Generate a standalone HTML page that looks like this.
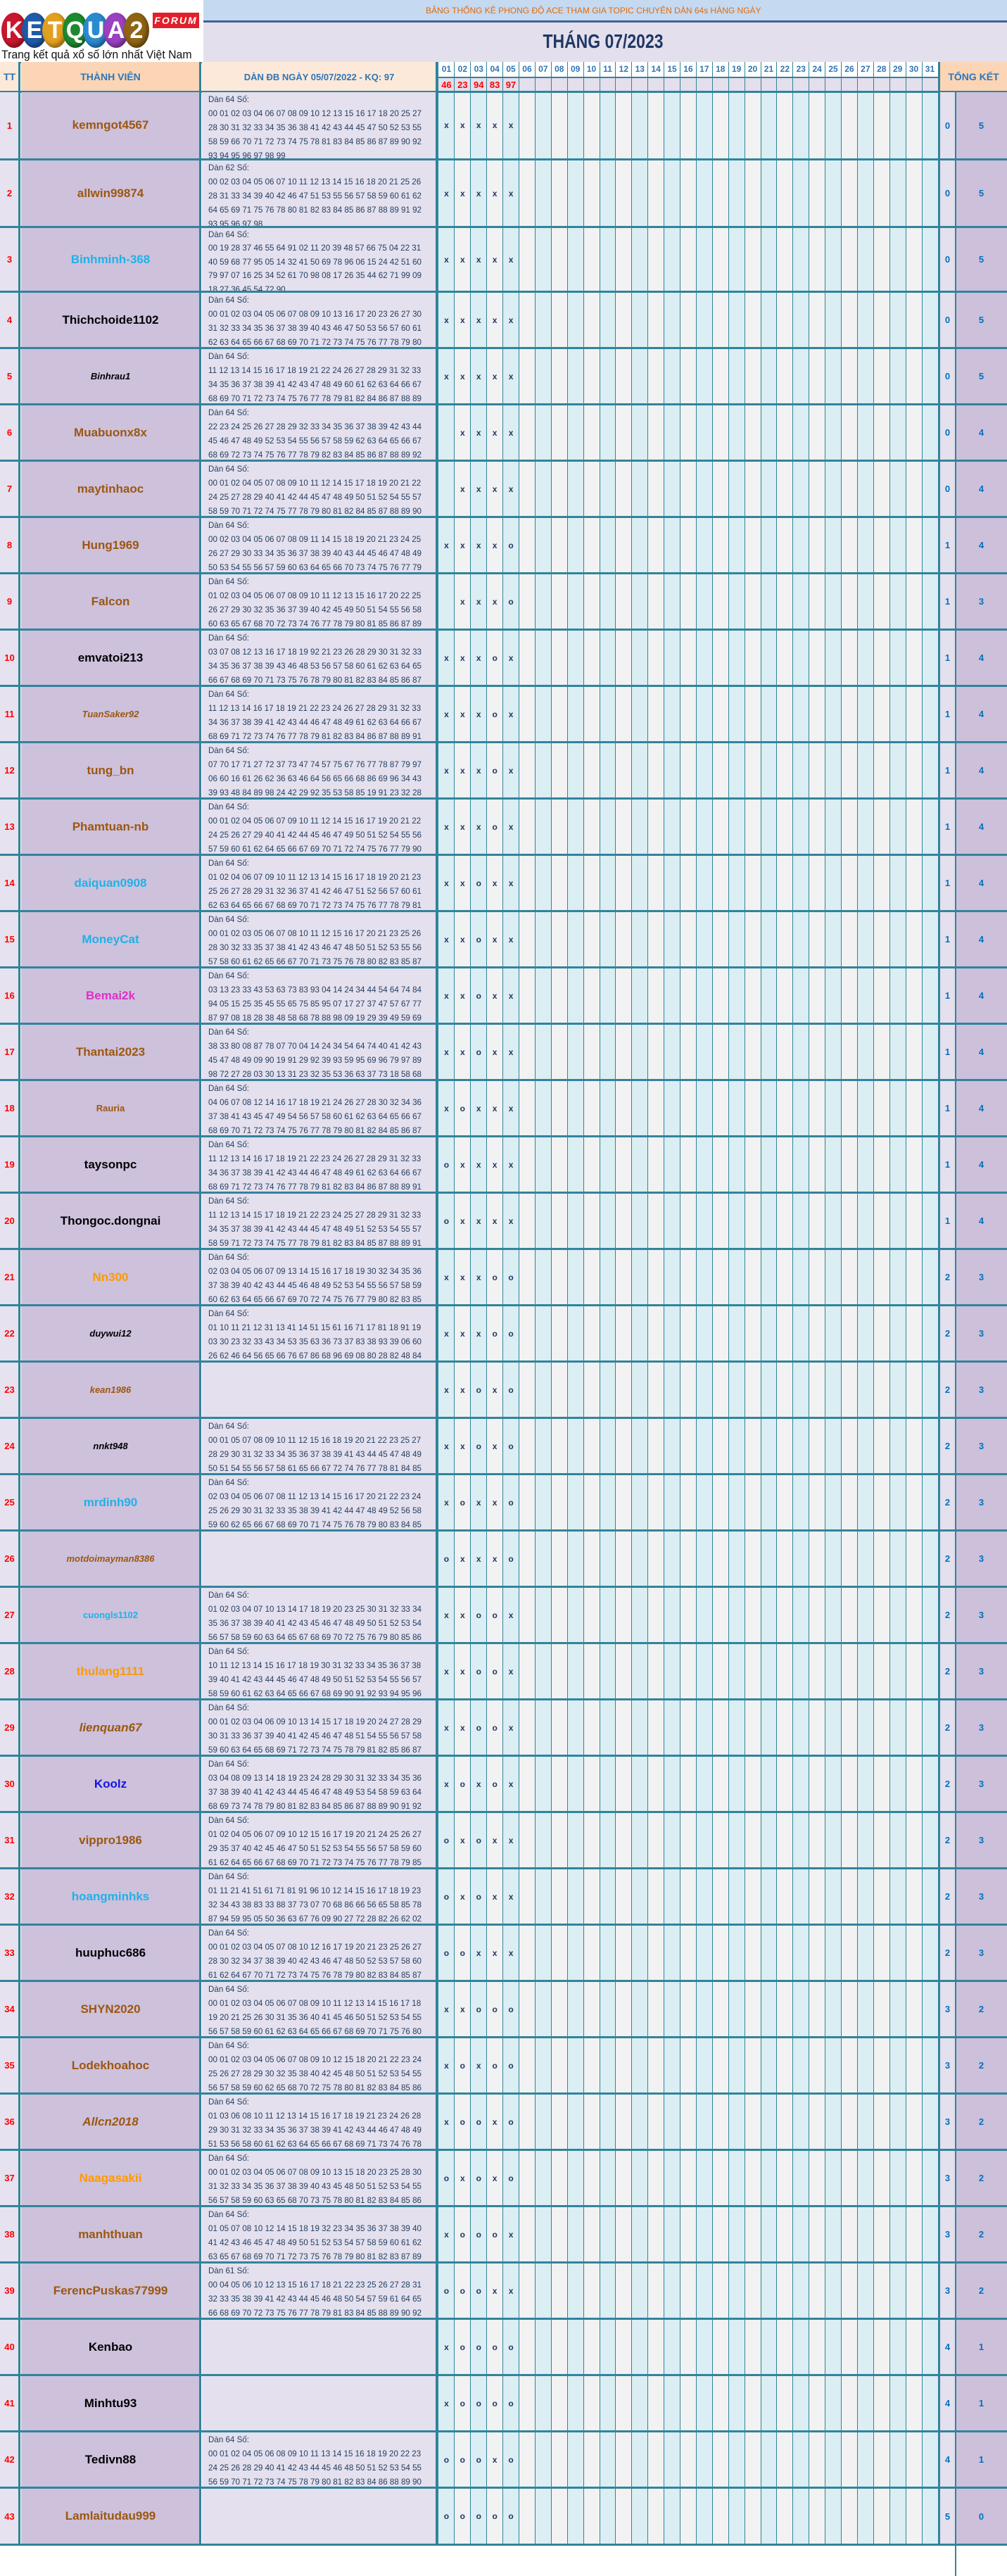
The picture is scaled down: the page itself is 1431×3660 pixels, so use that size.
<!DOCTYPE html>
<html><head><meta charset="utf-8">
<style>
*{margin:0;padding:0;box-sizing:border-box}
body{width:1431px;height:3617px;position:relative;background:#fff;font-family:"Liberation Sans",sans-serif;overflow:hidden}
.a{position:absolute}
.daybg{position:absolute;left:623px;top:131px;width:710px;height:3486px;background:repeating-linear-gradient(90deg,#daeef3 0,#daeef3 22.9px,#f2f2f2 22.9px,#f2f2f2 45.8px)}
.vl{position:absolute;top:88px;height:3529px;background:#31849b}
.r{position:absolute;left:0;width:1431px;border-bottom:3px solid #31849b}
.tt{position:absolute;left:0;top:0;bottom:0;width:27px;background:#e6e2ef;color:#f00;font-size:13px;font-weight:bold;display:flex;align-items:center;justify-content:center}
.nm{position:absolute;left:30px;top:0;bottom:0;width:254px;background:#cdc1dc;font-size:17px;font-weight:bold;display:flex;align-items:center;justify-content:center;white-space:nowrap}
.nm.s{font-size:13px}
.nm.i{font-style:italic}
.dn{position:absolute;left:287px;top:0;bottom:0;width:333px;background:#e4e0ee;color:#243f60;font-size:11.6px;line-height:20px;padding:1px 0 0 9px;white-space:nowrap;overflow:hidden}
.m{position:absolute;top:0;bottom:0;width:22.9px;display:flex;align-items:center;justify-content:center;font-size:12px;font-weight:bold;color:#1f3864}
.w{position:absolute;left:1336px;top:0;bottom:0;width:21px;background:#e4e0ee;color:#0070c0;font-weight:bold;font-size:13px;display:flex;align-items:center;justify-content:center}
.t{position:absolute;left:1358px;top:0;bottom:0;width:73px;background:#ccc0da;color:#0070c0;font-weight:bold;font-size:13px;display:flex;align-items:center;justify-content:center}
.br{color:#9c5710}.cy{color:#1fb2e8}.bk{color:#000}.mg{color:#e02ec8}.or{color:#ff9a00}.bl{color:#1414e6}
.hd{position:absolute;top:111px;height:20px;width:22.9px;color:#f00;font-weight:bold;font-size:13px;text-align:center;line-height:20px}
.dh{position:absolute;top:88px;height:21px;width:22.9px;color:#2e75b6;font-weight:bold;font-size:12px;text-align:center;line-height:21px;background:#fff}
.c{position:absolute;width:26px;height:50px;border-radius:50%;top:18px;color:#fff;font-weight:bold;font-size:34px;text-align:center;line-height:50px;box-shadow:inset -3px -4px 6px rgba(0,0,0,.35)}
</style></head><body>
<!-- logo -->
<div class="a" style="left:0;top:0;width:289px;height:88px;background:#fff"></div>
<div class="c" style="left:2px;width:36px;background:#c8172e">K</div>
<div class="c" style="left:31px;width:36px;background:#1f5aa8">E</div>
<div class="c" style="left:60px;width:36px;background:#e2a020">T</div>
<div class="c" style="left:89px;width:36px;background:#1e8a30">Q</div>
<div class="c" style="left:118px;width:36px;background:#2a8ad0">U</div>
<div class="c" style="left:147px;width:36px;background:#9a40c0">A</div>
<div class="c" style="left:176px;width:36px;background:#8f6414">2</div>
<div class="a" style="left:217px;top:18px;width:66px;height:22px;background:#e0202a;color:#fff;font-style:italic;font-weight:bold;font-size:14px;text-align:center;line-height:22px;letter-spacing:2px">FORUM</div>
<div class="a" style="left:2px;top:68px;font-size:17px;color:#111;white-space:nowrap;transform:scaleX(0.93);transform-origin:left">Trang kết quả xổ số lớn nhất Việt Nam</div>
<!-- top bands -->
<div class="a" style="left:289px;top:0;width:1142px;height:30px;background:#c5d9f1"></div>
<div class="a" style="left:289px;top:29px;width:1142px;height:3px;background:#3d6398"></div>
<div class="a" style="left:289px;top:32px;width:1142px;height:56px;background:#e4dfec"></div>
<div class="a" style="left:605px;top:8px;font-size:12px;color:#e36c09;white-space:nowrap">BẢNG THỐNG KÊ PHONG ĐỘ ACE THAM GIA TOPIC CHUYÊN DÀN 64s HÀNG NGÀY</div>
<div class="a" style="left:700px;top:43px;width:314px;text-align:center;font-size:28px;font-weight:bold;color:#1f3864;transform:scaleX(0.82)">THÁNG 07/2023</div>
<!-- header row -->
<div class="a" style="left:0;top:88px;width:1431px;height:2px;background:#31849b"></div>
<div class="a" style="left:0;top:88px;width:27px;height:43px;background:#fde9d9;color:#2e75b6;font-weight:bold;font-size:14px;text-align:center;line-height:43px">TT</div>
<div class="a" style="left:30px;top:88px;width:254px;height:43px;background:#fbd5b5;color:#2e75b6;font-weight:bold;font-size:14px;text-align:center;line-height:43px">THÀNH VIÊN</div>
<div class="a" style="left:287px;top:88px;width:333px;height:43px;background:#fde9d9;color:#2e75b6;font-weight:bold;font-size:13px;text-align:center;line-height:43px">DÀN ĐB NGÀY 05/07/2022 - KQ: 97</div>
<div class="a" style="left:623px;top:109px;width:710px;height:22px;background:#e4dfec"></div>
<div class="a" style="left:623px;top:108px;width:710px;height:3px;background:#31849b"></div>
<div class="a" style="left:1336px;top:88px;width:95px;height:43px;background:#fbd5b5;color:#2e75b6;font-weight:bold;font-size:14px;text-align:center;line-height:43px">TỔNG KẾT</div>
<div class="a" style="left:1336px;top:129px;width:95px;height:3px;background:#3d5f8f"></div>
<div class="daybg"></div>
<div id="days"></div>
<div class="dh" style="left:623.0px">01</div><div class="dh" style="left:645.9px">02</div><div class="dh" style="left:668.8px">03</div><div class="dh" style="left:691.7px">04</div><div class="dh" style="left:714.6px">05</div><div class="dh" style="left:737.5px">06</div><div class="dh" style="left:760.4px">07</div><div class="dh" style="left:783.3px">08</div><div class="dh" style="left:806.2px">09</div><div class="dh" style="left:829.1px">10</div><div class="dh" style="left:852.0px">11</div><div class="dh" style="left:874.9px">12</div><div class="dh" style="left:897.8px">13</div><div class="dh" style="left:920.7px">14</div><div class="dh" style="left:943.6px">15</div><div class="dh" style="left:966.5px">16</div><div class="dh" style="left:989.4px">17</div><div class="dh" style="left:1012.3px">18</div><div class="dh" style="left:1035.2px">19</div><div class="dh" style="left:1058.1px">20</div><div class="dh" style="left:1081.0px">21</div><div class="dh" style="left:1103.9px">22</div><div class="dh" style="left:1126.8px">23</div><div class="dh" style="left:1149.7px">24</div><div class="dh" style="left:1172.6px">25</div><div class="dh" style="left:1195.5px">26</div><div class="dh" style="left:1218.4px">27</div><div class="dh" style="left:1241.3px">28</div><div class="dh" style="left:1264.2px">29</div><div class="dh" style="left:1287.1px">30</div><div class="dh" style="left:1310.0px">31</div>
<div class="hd" style="left:623.0px">46</div><div class="hd" style="left:645.9px">23</div><div class="hd" style="left:668.8px">94</div><div class="hd" style="left:691.7px">83</div><div class="hd" style="left:714.6px">97</div>
<div class="a" style="left:0;top:129px;width:1431px;height:3px;background:#31849b"></div>

<!-- rows -->
<div class="r" style="top:131px;height:97px"><div class="tt">1</div><div class="nm br">kemngot4567</div><div class="dn">Dàn 64 Số:<br>00 01 02 03 04 06 07 08 09 10 12 13 15 16 17 18 20 25 27<br>28 30 31 32 33 34 35 36 38 41 42 43 44 45 47 50 52 53 55<br>58 59 66 70 71 72 73 74 75 78 81 83 84 85 86 87 89 90 92<br>93 94 95 96 97 98 99</div><div class="m" style="left:623px">x</div><div class="m" style="left:645.9px">x</div><div class="m" style="left:668.8px">x</div><div class="m" style="left:691.7px">x</div><div class="m" style="left:714.6px">x</div><div class="w">0</div><div class="t">5</div></div>
<div class="r" style="top:228px;height:96px"><div class="tt">2</div><div class="nm br">allwin99874</div><div class="dn">Dàn 62 Số:<br>00 02 03 04 05 06 07 10 11 12 13 14 15 16 18 20 21 25 26<br>28 31 33 34 39 40 42 46 47 51 53 55 56 57 58 59 60 61 62<br>64 65 69 71 75 76 78 80 81 82 83 84 85 86 87 88 89 91 92<br>93 95 96 97 98</div><div class="m" style="left:623px">x</div><div class="m" style="left:645.9px">x</div><div class="m" style="left:668.8px">x</div><div class="m" style="left:691.7px">x</div><div class="m" style="left:714.6px">x</div><div class="w">0</div><div class="t">5</div></div>
<div class="r" style="top:324px;height:92px"><div class="tt">3</div><div class="nm cy">Binhminh-368</div><div class="dn" style="line-height:19.4px;padding-top:0">Dàn 64 Số:<br>00 19 28 37 46 55 64 91 02 11 20 39 48 57 66 75 04 22 31<br>40 59 68 77 95 05 14 32 41 50 69 78 96 06 15 24 42 51 60<br>79 97 07 16 25 34 52 61 70 98 08 17 26 35 44 62 71 99 09<br>18 27 36 45 54 72 90</div><div class="m" style="left:623px">x</div><div class="m" style="left:645.9px">x</div><div class="m" style="left:668.8px">x</div><div class="m" style="left:691.7px">x</div><div class="m" style="left:714.6px">x</div><div class="w">0</div><div class="t">5</div></div>
<div class="r" style="top:416px;height:80px"><div class="tt">4</div><div class="nm bk">Thichchoide1102</div><div class="dn">Dàn 64 Số:<br>00 01 02 03 04 05 06 07 08 09 10 13 16 17 20 23 26 27 30<br>31 32 33 34 35 36 37 38 39 40 43 46 47 50 53 56 57 60 61<br>62 63 64 65 66 67 68 69 70 71 72 73 74 75 76 77 78 79 80</div><div class="m" style="left:623px">x</div><div class="m" style="left:645.9px">x</div><div class="m" style="left:668.8px">x</div><div class="m" style="left:691.7px">x</div><div class="m" style="left:714.6px">x</div><div class="w">0</div><div class="t">5</div></div>
<div class="r" style="top:496px;height:80px"><div class="tt">5</div><div class="nm bk s i">Binhrau1</div><div class="dn">Dàn 64 Số:<br>11 12 13 14 15 16 17 18 19 21 22 24 26 27 28 29 31 32 33<br>34 35 36 37 38 39 41 42 43 47 48 49 60 61 62 63 64 66 67<br>68 69 70 71 72 73 74 75 76 77 78 79 81 82 84 86 87 88 89</div><div class="m" style="left:623px">x</div><div class="m" style="left:645.9px">x</div><div class="m" style="left:668.8px">x</div><div class="m" style="left:691.7px">x</div><div class="m" style="left:714.6px">x</div><div class="w">0</div><div class="t">5</div></div>
<div class="r" style="top:576px;height:80px"><div class="tt">6</div><div class="nm br">Muabuonx8x</div><div class="dn">Dàn 64 Số:<br>22 23 24 25 26 27 28 29 32 33 34 35 36 37 38 39 42 43 44<br>45 46 47 48 49 52 53 54 55 56 57 58 59 62 63 64 65 66 67<br>68 69 72 73 74 75 76 77 78 79 82 83 84 85 86 87 88 89 92</div><div class="m" style="left:645.9px">x</div><div class="m" style="left:668.8px">x</div><div class="m" style="left:691.7px">x</div><div class="m" style="left:714.6px">x</div><div class="w">0</div><div class="t">4</div></div>
<div class="r" style="top:656px;height:80px"><div class="tt">7</div><div class="nm br">maytinhaoc</div><div class="dn">Dàn 64 Số:<br>00 01 02 04 05 07 08 09 10 11 12 14 15 17 18 19 20 21 22<br>24 25 27 28 29 40 41 42 44 45 47 48 49 50 51 52 54 55 57<br>58 59 70 71 72 74 75 77 78 79 80 81 82 84 85 87 88 89 90</div><div class="m" style="left:645.9px">x</div><div class="m" style="left:668.8px">x</div><div class="m" style="left:691.7px">x</div><div class="m" style="left:714.6px">x</div><div class="w">0</div><div class="t">4</div></div>
<div class="r" style="top:736px;height:80px"><div class="tt">8</div><div class="nm br">Hung1969</div><div class="dn">Dàn 64 Số:<br>00 02 03 04 05 06 07 08 09 11 14 15 18 19 20 21 23 24 25<br>26 27 29 30 33 34 35 36 37 38 39 40 43 44 45 46 47 48 49<br>50 53 54 55 56 57 59 60 63 64 65 66 70 73 74 75 76 77 79</div><div class="m" style="left:623px">x</div><div class="m" style="left:645.9px">x</div><div class="m" style="left:668.8px">x</div><div class="m" style="left:691.7px">x</div><div class="m" style="left:714.6px">o</div><div class="w">1</div><div class="t">4</div></div>
<div class="r" style="top:816px;height:80px"><div class="tt">9</div><div class="nm br">Falcon</div><div class="dn">Dàn 64 Số:<br>01 02 03 04 05 06 07 08 09 10 11 12 13 15 16 17 20 22 25<br>26 27 29 30 32 35 36 37 39 40 42 45 49 50 51 54 55 56 58<br>60 63 65 67 68 70 72 73 74 76 77 78 79 80 81 85 86 87 89</div><div class="m" style="left:645.9px">x</div><div class="m" style="left:668.8px">x</div><div class="m" style="left:691.7px">x</div><div class="m" style="left:714.6px">o</div><div class="w">1</div><div class="t">3</div></div>
<div class="r" style="top:896px;height:80px"><div class="tt">10</div><div class="nm bk">emvatoi213</div><div class="dn">Dàn 64 Số:<br>03 07 08 12 13 16 17 18 19 92 21 23 26 28 29 30 31 32 33<br>34 35 36 37 38 39 43 46 48 53 56 57 58 60 61 62 63 64 65<br>66 67 68 69 70 71 73 75 76 78 79 80 81 82 83 84 85 86 87</div><div class="m" style="left:623px">x</div><div class="m" style="left:645.9px">x</div><div class="m" style="left:668.8px">x</div><div class="m" style="left:691.7px">o</div><div class="m" style="left:714.6px">x</div><div class="w">1</div><div class="t">4</div></div>
<div class="r" style="top:976px;height:80px"><div class="tt">11</div><div class="nm br s i">TuanSaker92</div><div class="dn">Dàn 64 Số:<br>11 12 13 14 16 17 18 19 21 22 23 24 26 27 28 29 31 32 33<br>34 36 37 38 39 41 42 43 44 46 47 48 49 61 62 63 64 66 67<br>68 69 71 72 73 74 76 77 78 79 81 82 83 84 86 87 88 89 91</div><div class="m" style="left:623px">x</div><div class="m" style="left:645.9px">x</div><div class="m" style="left:668.8px">x</div><div class="m" style="left:691.7px">o</div><div class="m" style="left:714.6px">x</div><div class="w">1</div><div class="t">4</div></div>
<div class="r" style="top:1056px;height:80px"><div class="tt">12</div><div class="nm br">tung_bn</div><div class="dn">Dàn 64 Số:<br>07 70 17 71 27 72 37 73 47 74 57 75 67 76 77 78 87 79 97<br>06 60 16 61 26 62 36 63 46 64 56 65 66 68 86 69 96 34 43<br>39 93 48 84 89 98 24 42 29 92 35 53 58 85 19 91 23 32 28</div><div class="m" style="left:623px">x</div><div class="m" style="left:645.9px">x</div><div class="m" style="left:668.8px">x</div><div class="m" style="left:691.7px">o</div><div class="m" style="left:714.6px">x</div><div class="w">1</div><div class="t">4</div></div>
<div class="r" style="top:1136px;height:80px"><div class="tt">13</div><div class="nm br">Phamtuan-nb</div><div class="dn">Dàn 64 Số:<br>00 01 02 04 05 06 07 09 10 11 12 14 15 16 17 19 20 21 22<br>24 25 26 27 29 40 41 42 44 45 46 47 49 50 51 52 54 55 56<br>57 59 60 61 62 64 65 66 67 69 70 71 72 74 75 76 77 79 90</div><div class="m" style="left:623px">x</div><div class="m" style="left:645.9px">x</div><div class="m" style="left:668.8px">x</div><div class="m" style="left:691.7px">o</div><div class="m" style="left:714.6px">x</div><div class="w">1</div><div class="t">4</div></div>
<div class="r" style="top:1216px;height:80px"><div class="tt">14</div><div class="nm cy">daiquan0908</div><div class="dn">Dàn 64 Số:<br>01 02 04 06 07 09 10 11 12 13 14 15 16 17 18 19 20 21 23<br>25 26 27 28 29 31 32 36 37 41 42 46 47 51 52 56 57 60 61<br>62 63 64 65 66 67 68 69 70 71 72 73 74 75 76 77 78 79 81</div><div class="m" style="left:623px">x</div><div class="m" style="left:645.9px">x</div><div class="m" style="left:668.8px">o</div><div class="m" style="left:691.7px">x</div><div class="m" style="left:714.6px">x</div><div class="w">1</div><div class="t">4</div></div>
<div class="r" style="top:1296px;height:80px"><div class="tt">15</div><div class="nm cy">MoneyCat</div><div class="dn">Dàn 64 Số:<br>00 01 02 03 05 06 07 08 10 11 12 15 16 17 20 21 23 25 26<br>28 30 32 33 35 37 38 41 42 43 46 47 48 50 51 52 53 55 56<br>57 58 60 61 62 65 66 67 70 71 73 75 76 78 80 82 83 85 87</div><div class="m" style="left:623px">x</div><div class="m" style="left:645.9px">x</div><div class="m" style="left:668.8px">o</div><div class="m" style="left:691.7px">x</div><div class="m" style="left:714.6px">x</div><div class="w">1</div><div class="t">4</div></div>
<div class="r" style="top:1376px;height:80px"><div class="tt">16</div><div class="nm mg">Bemai2k</div><div class="dn">Dàn 64 Số:<br>03 13 23 33 43 53 63 73 83 93 04 14 24 34 44 54 64 74 84<br>94 05 15 25 35 45 55 65 75 85 95 07 17 27 37 47 57 67 77<br>87 97 08 18 28 38 48 58 68 78 88 98 09 19 29 39 49 59 69</div><div class="m" style="left:623px">x</div><div class="m" style="left:645.9px">x</div><div class="m" style="left:668.8px">o</div><div class="m" style="left:691.7px">x</div><div class="m" style="left:714.6px">x</div><div class="w">1</div><div class="t">4</div></div>
<div class="r" style="top:1456px;height:80px"><div class="tt">17</div><div class="nm br">Thantai2023</div><div class="dn">Dàn 64 Số:<br>38 33 80 08 87 78 07 70 04 14 24 34 54 64 74 40 41 42 43<br>45 47 48 49 09 90 19 91 29 92 39 93 59 95 69 96 79 97 89<br>98 72 27 28 03 30 13 31 23 32 35 53 36 63 37 73 18 58 68</div><div class="m" style="left:623px">x</div><div class="m" style="left:645.9px">x</div><div class="m" style="left:668.8px">o</div><div class="m" style="left:691.7px">x</div><div class="m" style="left:714.6px">x</div><div class="w">1</div><div class="t">4</div></div>
<div class="r" style="top:1536px;height:80px"><div class="tt">18</div><div class="nm br s">Rauria</div><div class="dn">Dàn 64 Số:<br>04 06 07 08 12 14 16 17 18 19 21 24 26 27 28 30 32 34 36<br>37 38 41 43 45 47 49 54 56 57 58 60 61 62 63 64 65 66 67<br>68 69 70 71 72 73 74 75 76 77 78 79 80 81 82 84 85 86 87</div><div class="m" style="left:623px">x</div><div class="m" style="left:645.9px">o</div><div class="m" style="left:668.8px">x</div><div class="m" style="left:691.7px">x</div><div class="m" style="left:714.6px">x</div><div class="w">1</div><div class="t">4</div></div>
<div class="r" style="top:1616px;height:80px"><div class="tt">19</div><div class="nm bk">taysonpc</div><div class="dn">Dàn 64 Số:<br>11 12 13 14 16 17 18 19 21 22 23 24 26 27 28 29 31 32 33<br>34 36 37 38 39 41 42 43 44 46 47 48 49 61 62 63 64 66 67<br>68 69 71 72 73 74 76 77 78 79 81 82 83 84 86 87 88 89 91</div><div class="m" style="left:623px">o</div><div class="m" style="left:645.9px">x</div><div class="m" style="left:668.8px">x</div><div class="m" style="left:691.7px">x</div><div class="m" style="left:714.6px">x</div><div class="w">1</div><div class="t">4</div></div>
<div class="r" style="top:1696px;height:80px"><div class="tt">20</div><div class="nm bk">Thongoc.dongnai</div><div class="dn">Dàn 64 Số:<br>11 12 13 14 15 17 18 19 21 22 23 24 25 27 28 29 31 32 33<br>34 35 37 38 39 41 42 43 44 45 47 48 49 51 52 53 54 55 57<br>58 59 71 72 73 74 75 77 78 79 81 82 83 84 85 87 88 89 91</div><div class="m" style="left:623px">o</div><div class="m" style="left:645.9px">x</div><div class="m" style="left:668.8px">x</div><div class="m" style="left:691.7px">x</div><div class="m" style="left:714.6px">x</div><div class="w">1</div><div class="t">4</div></div>
<div class="r" style="top:1776px;height:80px"><div class="tt">21</div><div class="nm or">Nn300</div><div class="dn">Dàn 64 Số:<br>02 03 04 05 06 07 09 13 14 15 16 17 18 19 30 32 34 35 36<br>37 38 39 40 42 43 44 45 46 48 49 52 53 54 55 56 57 58 59<br>60 62 63 64 65 66 67 69 70 72 74 75 76 77 79 80 82 83 85</div><div class="m" style="left:623px">x</div><div class="m" style="left:645.9px">x</div><div class="m" style="left:668.8px">x</div><div class="m" style="left:691.7px">o</div><div class="m" style="left:714.6px">o</div><div class="w">2</div><div class="t">3</div></div>
<div class="r" style="top:1856px;height:80px"><div class="tt">22</div><div class="nm bk s i">duywui12</div><div class="dn">Dàn 64 Số:<br>01 10 11 21 12 31 13 41 14 51 15 61 16 71 17 81 18 91 19<br>03 30 23 32 33 43 34 53 35 63 36 73 37 83 38 93 39 06 60<br>26 62 46 64 56 65 66 76 67 86 68 96 69 08 80 28 82 48 84</div><div class="m" style="left:623px">x</div><div class="m" style="left:645.9px">x</div><div class="m" style="left:668.8px">x</div><div class="m" style="left:691.7px">o</div><div class="m" style="left:714.6px">o</div><div class="w">2</div><div class="t">3</div></div>
<div class="r" style="top:1936px;height:80px"><div class="tt">23</div><div class="nm br s i">kean1986</div><div class="dn"></div><div class="m" style="left:623px">x</div><div class="m" style="left:645.9px">x</div><div class="m" style="left:668.8px">o</div><div class="m" style="left:691.7px">x</div><div class="m" style="left:714.6px">o</div><div class="w">2</div><div class="t">3</div></div>
<div class="r" style="top:2016px;height:80px"><div class="tt">24</div><div class="nm bk s i">nnkt948</div><div class="dn">Dàn 64 Số:<br>00 01 05 07 08 09 10 11 12 15 16 18 19 20 21 22 23 25 27<br>28 29 30 31 32 33 34 35 36 37 38 39 41 43 44 45 47 48 49<br>50 51 54 55 56 57 58 61 65 66 67 72 74 76 77 78 81 84 85</div><div class="m" style="left:623px">x</div><div class="m" style="left:645.9px">x</div><div class="m" style="left:668.8px">o</div><div class="m" style="left:691.7px">x</div><div class="m" style="left:714.6px">o</div><div class="w">2</div><div class="t">3</div></div>
<div class="r" style="top:2096px;height:80px"><div class="tt">25</div><div class="nm cy">mrdinh90</div><div class="dn">Dàn 64 Số:<br>02 03 04 05 06 07 08 11 12 13 14 15 16 17 20 21 22 23 24<br>25 26 29 30 31 32 33 35 38 39 41 42 44 47 48 49 52 56 58<br>59 60 62 65 66 67 68 69 70 71 74 75 76 78 79 80 83 84 85</div><div class="m" style="left:623px">x</div><div class="m" style="left:645.9px">o</div><div class="m" style="left:668.8px">x</div><div class="m" style="left:691.7px">x</div><div class="m" style="left:714.6px">o</div><div class="w">2</div><div class="t">3</div></div>
<div class="r" style="top:2176px;height:80px"><div class="tt">26</div><div class="nm br s i">motdoimayman8386</div><div class="dn"></div><div class="m" style="left:623px">o</div><div class="m" style="left:645.9px">x</div><div class="m" style="left:668.8px">x</div><div class="m" style="left:691.7px">x</div><div class="m" style="left:714.6px">o</div><div class="w">2</div><div class="t">3</div></div>
<div class="r" style="top:2256px;height:80px"><div class="tt">27</div><div class="nm cy s">cuongls1102</div><div class="dn">Dàn 64 Số:<br>01 02 03 04 07 10 13 14 17 18 19 20 23 25 30 31 32 33 34<br>35 36 37 38 39 40 41 42 43 45 46 47 48 49 50 51 52 53 54<br>56 57 58 59 60 63 64 65 67 68 69 70 72 75 76 79 80 85 86</div><div class="m" style="left:623px">x</div><div class="m" style="left:645.9px">x</div><div class="m" style="left:668.8px">o</div><div class="m" style="left:691.7px">o</div><div class="m" style="left:714.6px">x</div><div class="w">2</div><div class="t">3</div></div>
<div class="r" style="top:2336px;height:80px"><div class="tt">28</div><div class="nm or">thulang1111</div><div class="dn">Dàn 64 Số:<br>10 11 12 13 14 15 16 17 18 19 30 31 32 33 34 35 36 37 38<br>39 40 41 42 43 44 45 46 47 48 49 50 51 52 53 54 55 56 57<br>58 59 60 61 62 63 64 65 66 67 68 69 90 91 92 93 94 95 96</div><div class="m" style="left:623px">x</div><div class="m" style="left:645.9px">x</div><div class="m" style="left:668.8px">o</div><div class="m" style="left:691.7px">o</div><div class="m" style="left:714.6px">x</div><div class="w">2</div><div class="t">3</div></div>
<div class="r" style="top:2416px;height:80px"><div class="tt">29</div><div class="nm br i">lienquan67</div><div class="dn">Dàn 64 Số:<br>00 01 02 03 04 06 09 10 13 14 15 17 18 19 20 24 27 28 29<br>30 31 33 36 37 39 40 41 42 45 46 47 48 51 54 55 56 57 58<br>59 60 63 64 65 68 69 71 72 73 74 75 78 79 81 82 85 86 87</div><div class="m" style="left:623px">x</div><div class="m" style="left:645.9px">x</div><div class="m" style="left:668.8px">o</div><div class="m" style="left:691.7px">o</div><div class="m" style="left:714.6px">x</div><div class="w">2</div><div class="t">3</div></div>
<div class="r" style="top:2496px;height:80px"><div class="tt">30</div><div class="nm bl">Koolz</div><div class="dn">Dàn 64 Số:<br>03 04 08 09 13 14 18 19 23 24 28 29 30 31 32 33 34 35 36<br>37 38 39 40 41 42 43 44 45 46 47 48 49 53 54 58 59 63 64<br>68 69 73 74 78 79 80 81 82 83 84 85 86 87 88 89 90 91 92</div><div class="m" style="left:623px">x</div><div class="m" style="left:645.9px">o</div><div class="m" style="left:668.8px">x</div><div class="m" style="left:691.7px">o</div><div class="m" style="left:714.6px">x</div><div class="w">2</div><div class="t">3</div></div>
<div class="r" style="top:2576px;height:80px"><div class="tt">31</div><div class="nm br">vippro1986</div><div class="dn">Dàn 64 Số:<br>01 02 04 05 06 07 09 10 12 15 16 17 19 20 21 24 25 26 27<br>29 35 37 40 42 45 46 47 50 51 52 53 54 55 56 57 58 59 60<br>61 62 64 65 66 67 68 69 70 71 72 73 74 75 76 77 78 79 85</div><div class="m" style="left:623px">o</div><div class="m" style="left:645.9px">x</div><div class="m" style="left:668.8px">o</div><div class="m" style="left:691.7px">x</div><div class="m" style="left:714.6px">x</div><div class="w">2</div><div class="t">3</div></div>
<div class="r" style="top:2656px;height:80px"><div class="tt">32</div><div class="nm cy">hoangminhks</div><div class="dn">Dàn 64 Số:<br>01 11 21 41 51 61 71 81 91 96 10 12 14 15 16 17 18 19 23<br>32 34 43 38 83 33 88 37 73 07 70 68 86 66 56 65 58 85 78<br>87 94 59 95 05 50 36 63 67 76 09 90 27 72 28 82 26 62 02</div><div class="m" style="left:623px">o</div><div class="m" style="left:645.9px">x</div><div class="m" style="left:668.8px">o</div><div class="m" style="left:691.7px">x</div><div class="m" style="left:714.6px">x</div><div class="w">2</div><div class="t">3</div></div>
<div class="r" style="top:2736px;height:80px"><div class="tt">33</div><div class="nm bk">huuphuc686</div><div class="dn">Dàn 64 Số:<br>00 01 02 03 04 05 07 08 10 12 16 17 19 20 21 23 25 26 27<br>28 30 32 34 37 38 39 40 42 43 46 47 48 50 52 53 57 58 60<br>61 62 64 67 70 71 72 73 74 75 76 78 79 80 82 83 84 85 87</div><div class="m" style="left:623px">o</div><div class="m" style="left:645.9px">o</div><div class="m" style="left:668.8px">x</div><div class="m" style="left:691.7px">x</div><div class="m" style="left:714.6px">x</div><div class="w">2</div><div class="t">3</div></div>
<div class="r" style="top:2816px;height:80px"><div class="tt">34</div><div class="nm br">SHYN2020</div><div class="dn">Dàn 64 Số:<br>00 01 02 03 04 05 06 07 08 09 10 11 12 13 14 15 16 17 18<br>19 20 21 25 26 30 31 35 36 40 41 45 46 50 51 52 53 54 55<br>56 57 58 59 60 61 62 63 64 65 66 67 68 69 70 71 75 76 80</div><div class="m" style="left:623px">x</div><div class="m" style="left:645.9px">x</div><div class="m" style="left:668.8px">o</div><div class="m" style="left:691.7px">o</div><div class="m" style="left:714.6px">o</div><div class="w">3</div><div class="t">2</div></div>
<div class="r" style="top:2896px;height:80px"><div class="tt">35</div><div class="nm br">Lodekhoahoc</div><div class="dn">Dàn 64 Số:<br>00 01 02 03 04 05 06 07 08 09 10 12 15 18 20 21 22 23 24<br>25 26 27 28 29 30 32 35 38 40 42 45 48 50 51 52 53 54 55<br>56 57 58 59 60 62 65 68 70 72 75 78 80 81 82 83 84 85 86</div><div class="m" style="left:623px">x</div><div class="m" style="left:645.9px">o</div><div class="m" style="left:668.8px">x</div><div class="m" style="left:691.7px">o</div><div class="m" style="left:714.6px">o</div><div class="w">3</div><div class="t">2</div></div>
<div class="r" style="top:2976px;height:80px"><div class="tt">36</div><div class="nm br i">Allcn2018</div><div class="dn">Dàn 64 Số:<br>01 03 06 08 10 11 12 13 14 15 16 17 18 19 21 23 24 26 28<br>29 30 31 32 33 34 35 36 37 38 39 41 42 43 44 46 47 48 49<br>51 53 56 58 60 61 62 63 64 65 66 67 68 69 71 73 74 76 78</div><div class="m" style="left:623px">x</div><div class="m" style="left:645.9px">o</div><div class="m" style="left:668.8px">o</div><div class="m" style="left:691.7px">x</div><div class="m" style="left:714.6px">o</div><div class="w">3</div><div class="t">2</div></div>
<div class="r" style="top:3056px;height:80px"><div class="tt">37</div><div class="nm or">Naagasakii</div><div class="dn">Dàn 64 Số:<br>00 01 02 03 04 05 06 07 08 09 10 13 15 18 20 23 25 28 30<br>31 32 33 34 35 36 37 38 39 40 43 45 48 50 51 52 53 54 55<br>56 57 58 59 60 63 65 68 70 73 75 78 80 81 82 83 84 85 86</div><div class="m" style="left:623px">o</div><div class="m" style="left:645.9px">x</div><div class="m" style="left:668.8px">o</div><div class="m" style="left:691.7px">x</div><div class="m" style="left:714.6px">o</div><div class="w">3</div><div class="t">2</div></div>
<div class="r" style="top:3136px;height:80px"><div class="tt">38</div><div class="nm br">manhthuan</div><div class="dn">Dàn 64 Số:<br>01 05 07 08 10 12 14 15 18 19 32 23 34 35 36 37 38 39 40<br>41 42 43 46 45 47 48 49 50 51 52 53 54 57 58 59 60 61 62<br>63 65 67 68 69 70 71 72 73 75 76 78 79 80 81 82 83 87 89</div><div class="m" style="left:623px">x</div><div class="m" style="left:645.9px">o</div><div class="m" style="left:668.8px">o</div><div class="m" style="left:691.7px">o</div><div class="m" style="left:714.6px">x</div><div class="w">3</div><div class="t">2</div></div>
<div class="r" style="top:3216px;height:80px"><div class="tt">39</div><div class="nm br">FerencPuskas77999</div><div class="dn">Dàn 61 Số:<br>00 04 05 06 10 12 13 15 16 17 18 21 22 23 25 26 27 28 31<br>32 33 35 38 39 41 42 43 44 45 46 48 50 54 57 59 61 64 65<br>66 68 69 70 72 73 75 76 77 78 79 81 83 84 85 88 89 90 92</div><div class="m" style="left:623px">o</div><div class="m" style="left:645.9px">o</div><div class="m" style="left:668.8px">o</div><div class="m" style="left:691.7px">x</div><div class="m" style="left:714.6px">x</div><div class="w">3</div><div class="t">2</div></div>
<div class="r" style="top:3296px;height:80px"><div class="tt">40</div><div class="nm bk">Kenbao</div><div class="dn"></div><div class="m" style="left:623px">x</div><div class="m" style="left:645.9px">o</div><div class="m" style="left:668.8px">o</div><div class="m" style="left:691.7px">o</div><div class="m" style="left:714.6px">o</div><div class="w">4</div><div class="t">1</div></div>
<div class="r" style="top:3376px;height:80px"><div class="tt">41</div><div class="nm bk">Minhtu93</div><div class="dn"></div><div class="m" style="left:623px">x</div><div class="m" style="left:645.9px">o</div><div class="m" style="left:668.8px">o</div><div class="m" style="left:691.7px">o</div><div class="m" style="left:714.6px">o</div><div class="w">4</div><div class="t">1</div></div>
<div class="r" style="top:3456px;height:80px"><div class="tt">42</div><div class="nm bk">Tedivn88</div><div class="dn">Dàn 64 Số:<br>00 01 02 04 05 06 08 09 10 11 13 14 15 16 18 19 20 22 23<br>24 25 26 28 29 40 41 42 43 44 45 46 48 50 51 52 53 54 55<br>56 59 70 71 72 73 74 75 78 79 80 81 82 83 84 86 88 89 90</div><div class="m" style="left:623px">o</div><div class="m" style="left:645.9px">o</div><div class="m" style="left:668.8px">o</div><div class="m" style="left:691.7px">x</div><div class="m" style="left:714.6px">o</div><div class="w">4</div><div class="t">1</div></div>
<div class="r" style="top:3536px;height:81px"><div class="tt">43</div><div class="nm br">Lamlaitudau999</div><div class="dn"></div><div class="m" style="left:623px">o</div><div class="m" style="left:645.9px">o</div><div class="m" style="left:668.8px">o</div><div class="m" style="left:691.7px">o</div><div class="m" style="left:714.6px">o</div><div class="w">5</div><div class="t">0</div></div>

<!-- vertical lines -->
<div class="vl" style="left:26px;width:3px"></div>
<div class="vl" style="left:283px;width:3px"></div>
<div class="vl" style="left:619px;width:4px"></div>
<div class="vl" style="left:1333px;width:3px"></div>
<div class="vl" style="left:1357px;top:131px;width:2px"></div>
<div class="vl" style="left:645.4px;width:1px"></div><div class="vl" style="left:668.3px;width:1px"></div><div class="vl" style="left:691.2px;width:1px"></div><div class="vl" style="left:714.1px;width:1px"></div><div class="vl" style="left:737px;width:1px"></div><div class="vl" style="left:759.9px;width:1px"></div><div class="vl" style="left:782.8px;width:1px"></div><div class="vl" style="left:805.7px;width:1px"></div><div class="vl" style="left:828.6px;width:1px"></div><div class="vl" style="left:851.5px;width:1px"></div><div class="vl" style="left:874.4px;width:1px"></div><div class="vl" style="left:897.3px;width:1px"></div><div class="vl" style="left:920.2px;width:1px"></div><div class="vl" style="left:943.1px;width:1px"></div><div class="vl" style="left:966px;width:1px"></div><div class="vl" style="left:988.9px;width:1px"></div><div class="vl" style="left:1011.8px;width:1px"></div><div class="vl" style="left:1034.7px;width:1px"></div><div class="vl" style="left:1057.6px;width:1px"></div><div class="vl" style="left:1080.5px;width:1px"></div><div class="vl" style="left:1103.4px;width:1px"></div><div class="vl" style="left:1126.3px;width:1px"></div><div class="vl" style="left:1149.2px;width:1px"></div><div class="vl" style="left:1172.1px;width:1px"></div><div class="vl" style="left:1195px;width:1px"></div><div class="vl" style="left:1217.9px;width:1px"></div><div class="vl" style="left:1240.8px;width:1px"></div><div class="vl" style="left:1263.7px;width:1px"></div><div class="vl" style="left:1286.6px;width:1px"></div><div class="vl" style="left:1309.5px;width:1px"></div>
</body></html>
